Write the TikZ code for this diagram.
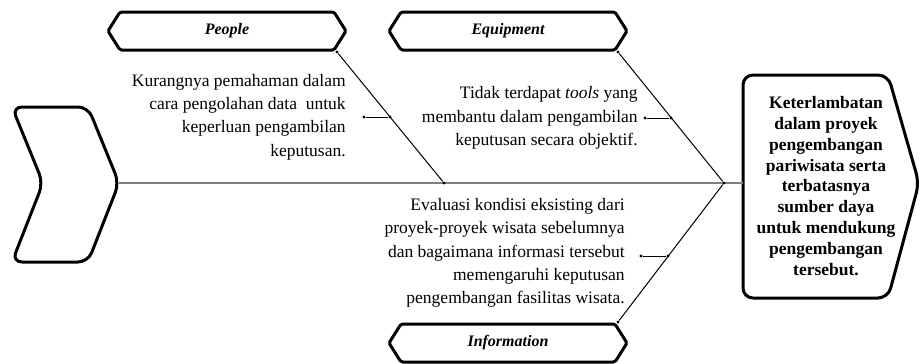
\documentclass[tikz,border=0pt]{standalone}
\usepackage{fontspec}
\setmainfont{Liberation Serif}
\newcommand{\category}[3]{%
 \begin{scope}[shift={(#2)}]%
  \draw [black,line width=1.8pt,rounded corners=1pt] (-119,0) -- (-107,-19) -- (107,-19) -- (119,0) -- (107,19) -- (-107,19) -- cycle;%
  \node ({#1}) at (0,0) {\fontsize{9.6}{11}\selectfont\bfseries\itshape #3};%
 \end{scope}%
}
\newcommand{\cause}[3]{%
 \node ({#1}) [anchor=east,align=right,font=\fontsize{10.5}{14}\selectfont] at ({#2}) {#3};%
}
\begin{document}
\begin{tikzpicture}[x=0.6pt,y=-0.6pt,every node/.style={inner sep=0pt},
  dot/.style={circle,fill=black,minimum size=2pt},
  bone/.style={black,line width=0.6pt},
  outline/.style={black,line width=1.8pt,rounded corners=6pt}]
  \useasboundingbox (0,0) rectangle (923,363);
  \draw[outline] (50,107) -- (88,107) -- (119,183) -- (88,262) -- (12,262) -- (43,183) -- (12,107) -- cycle;
  \draw[outline] (743,183) -- (743,75) -- (888,75) -- (919,183) -- (888,298) -- (743,298) -- cycle;
  \coordinate (tail) at (119,183);
  \coordinate (head) at (743,183);
  \node (effect) [align=center,font=\fontsize{10.5}{12.5}\selectfont\bfseries] at (826,186)
    {Keterlambatan\\dalam proyek\\pengembangan\\pariwisata serta\\terbatasnya\\sumber daya\\untuk mendukung\\pengembangan\\tersebut.};
  \draw[gray,line width=0.9pt] (tail) -- (head);
  \category{c1}{227,31}{People}
  \category{c2}{508,31}{Equipment}
  \category{c3}{508,343}{Information}
  \cause{t1}{346,117}{Kurangnya pemahaman dalam\\cara pengolahan data~ untuk\\keperluan pengambilan\\keputusan.}
  \cause{t2}{638,118}{Tidak terdapat \textit{tools} yang\\membantu dalam pengambilan\\keputusan secara objektif.}
  \cause{t3}{625,253}{Evaluasi kondisi eksisting dari\\proyek-proyek wisata sebelumnya\\dan bagaimana informasi tersebut\\memengaruhi keputusan\\pengembangan fasilitas wisata.}
  \node[dot] (j0) at (724,183) {};
  \node[dot] (p0) at (337,52) {};
  \node[dot] (p1) at (444,183) {};
  \node[dot] (p2) at (364,117) {};
  \node[dot] (p3) at (390,117) {};
  \node[dot] (e0) at (618,52) {};
  \node[dot] (e2) at (645,118) {};
  \node[dot] (e3) at (671,118) {};
  \node[dot] (i0) at (618,322) {};
  \node[dot] (i2) at (641,256) {};
  \node[dot] (i3) at (668,256) {};
  \draw[bone] (p0) -- (p1);
  \draw[bone] (p2) -- (p3);
  \draw[bone] (e0) -- (j0);
  \draw[bone] (e2) -- (e3);
  \draw[bone] (i0) -- (j0);
  \draw[bone] (i2) -- (i3);
\end{tikzpicture}
\end{document}
